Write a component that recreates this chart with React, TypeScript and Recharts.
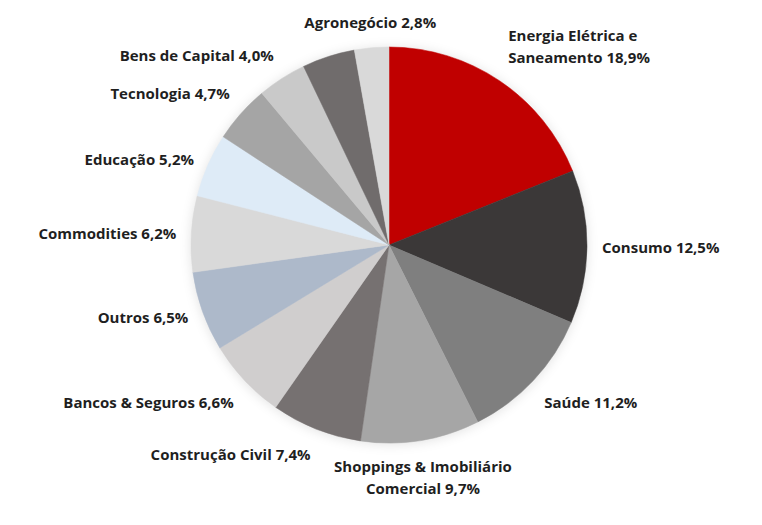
import React from 'react';
import { PieChart, Pie, Cell } from 'recharts';

// clockwise from 12 o'clock; one slice has no label in the source
const sectors = [
  'Energia Elétrica e Saneamento',
  'Consumo',
  'Saúde',
  'Shoppings & Imobiliário Comercial',
  'Construção Civil',
  'Bancos & Seguros',
  'Outros',
  'Commodities',
  'Educação',
  'Tecnologia',
  'Bens de Capital',
  '',
  'Agronegócio',
];
const shares = [18.9, 12.5, 11.2, 9.7, 7.4, 6.6, 6.5, 6.2, 5.2, 4.7, 4.0, 4.3, 2.8];
const colors = [
  '#c00000', '#3b3838', '#7f7f7f', '#a6a6a6', '#767171', '#d0cece',
  '#adb9ca', '#d9d9d9', '#deebf7', '#a5a5a5', '#c9c9c9', '#706c6c', '#d9d9d9',
];

const data = sectors.map((name, i) => ({ name, value: shares[i] }));

const RAD = Math.PI / 180;

const wrap = (text: string, max = 24) => {
  const lines: string[] = [];
  let cur = '';
  text.split(' ').forEach((w) => {
    const next = cur ? cur + ' ' + w : w;
    if (next.length > max && cur) {
      lines.push(cur);
      cur = w;
    } else {
      cur = next;
    }
  });
  if (cur) lines.push(cur);
  return lines;
};

const renderLabel = (props: any) => {
  const { cx, cy, midAngle, outerRadius, index } = props;
  const name = sectors[index];
  if (!name) return null;
  const dx = Math.cos(-midAngle * RAD);
  const dy = Math.sin(-midAngle * RAD);
  const r = outerRadius + 15;
  const x = cx + r * dx;
  const y = cy + r * dy;
  const anchor = dx > 0.25 ? 'start' : dx < -0.25 ? 'end' : 'middle';
  const lines = wrap(`${name} ${shares[index].toFixed(1).replace('.', ',')}%`);
  const lh = 22;
  const h = lines.length * lh;
  const top = dy < -0.5 ? y - h : dy > 0.5 ? y : y - h / 2;
  return (
    <text
      x={x}
      y={top}
      textAnchor={anchor}
      fill="#1f1f1f"
      fontFamily="'Open Sans', sans-serif"
      fontWeight={700}
      fontSize={15}
    >
      {lines.map((l, i) => (
        <tspan key={i} x={x} y={top + i * lh + lh / 2} dominantBaseline="central">
          {l}
        </tspan>
      ))}
    </text>
  );
};

export default function App() {
  return (
    <div style={{ position: 'absolute', left: 0, top: 0, width: 762, height: 525, background: '#fff' }}>
      <style>{`.pie-shadow { filter: blur(4px); opacity: 0.35; }`}</style>
      <PieChart width={762} height={525}>
        <Pie
          data={data}
          dataKey="value"
          cx={384}
          cy={241}
          outerRadius={198}
          startAngle={90}
          endAngle={-270}
          fill="#000"
          stroke="none"
          className="pie-shadow"
          isAnimationActive={false}
        />
        <Pie
          data={data}
          dataKey="value"
          cx={384}
          cy={240}
          outerRadius={198}
          startAngle={90}
          endAngle={-270}
          label={renderLabel}
          labelLine={false}
          isAnimationActive={false}
        >
          {data.map((d, i) => (
            <Cell key={i} fill={colors[i]} stroke={colors[i]} strokeWidth={0.5} />
          ))}
        </Pie>
      </PieChart>
    </div>
  );
}
